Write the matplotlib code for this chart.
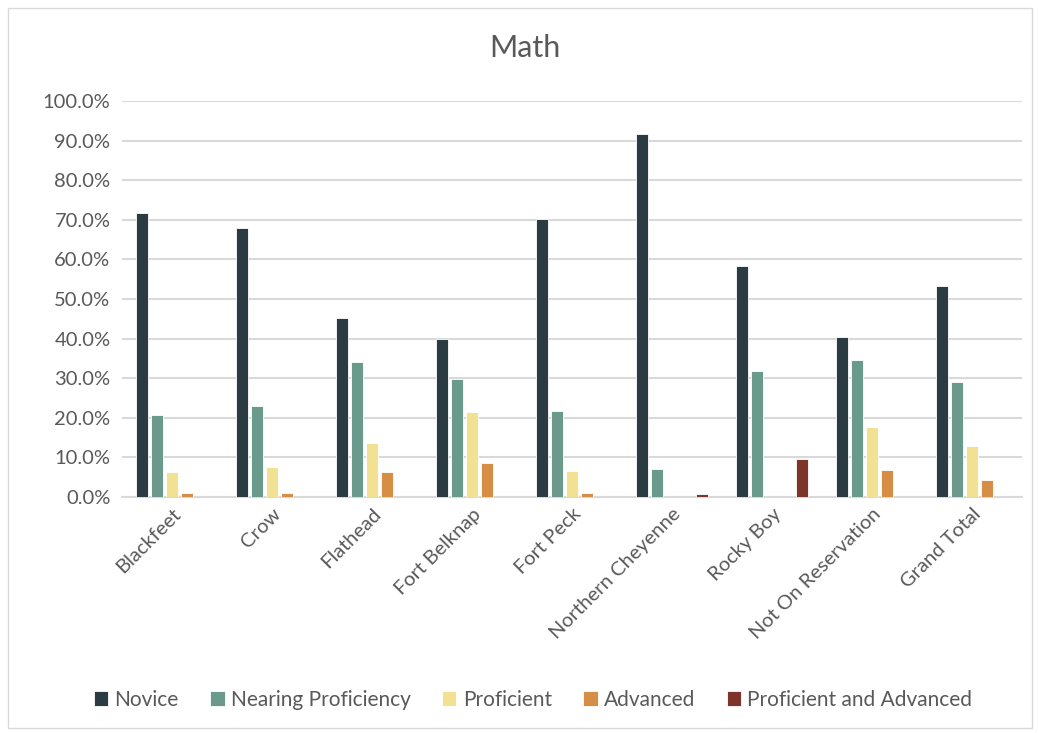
import numpy as np
import matplotlib.pyplot as plt
from matplotlib.patches import Rectangle
from matplotlib.ticker import FuncFormatter

plt.rcParams['font.family'] = ['Lato', 'DejaVu Sans']

categories = ['Blackfeet', 'Crow', 'Flathead', 'Fort Belknap', 'Fort Peck',
              'Northern Cheyenne', 'Rocky Boy', 'Not On Reservation', 'Grand Total']
series = ['Novice', 'Nearing Proficiency', 'Proficient', 'Advanced',
          'Proficient and Advanced']

novice = [71.7, 67.9, 45.3, 39.8, 70.3, 91.8, 58.4, 40.5, 53.3]
nearing = [20.7, 23.0, 34.0, 29.8, 21.7, 7.1, 31.7, 34.5, 29.0]
proficient = [6.4, 7.6, 13.7, 21.5, 6.6, 0.0, 0.0, 17.7, 12.9]
advanced = [0.9, 1.1, 6.4, 8.5, 0.9, 0.0, 0.0, 6.8, 4.3]
prof_adv = [0.0, 0.0, 0.0, 0.0, 0.0, 0.8, 9.6, 0.0, 0.0]

colors = ['#2a3b42', '#6a9a8b', '#f3e193', '#d68d45', '#7d352b']
values = [novice, nearing, proficient, advanced, prof_adv]

fig = plt.figure(figsize=(10.39, 7.33), dpi=100)
ax = fig.add_axes([0.117, 0.322, 0.867, 0.54])

x = np.arange(len(categories))
step = 0.15
width = 0.12
for i, (name, vals, c) in enumerate(zip(series, values, colors)):
    ax.bar(x + (i - 2) * step, np.array(vals) / 100, width, color=c,
           label=name, edgecolor='white', linewidth=0.6, zorder=3)

ax.set_xlim(-0.5, len(categories) - 0.5)
ax.set_ylim(0, 1.0)
ax.set_yticks(np.arange(0, 1.01, 0.1))
ax.yaxis.set_major_formatter(FuncFormatter(lambda v, p: f'{v*100:.1f}%'))
ax.grid(axis='y', color='#d9d9d9', linewidth=1.5, zorder=0)
ax.set_axisbelow(True)
for s in ['top', 'right', 'left']:
    ax.spines[s].set_visible(False)
ax.spines['bottom'].set_color('#d9d9d9')
ax.spines['bottom'].set_linewidth(1.5)
ax.tick_params(length=0, labelsize=14.5, labelcolor='#595959', pad=8)
ax.set_xticks(x)
ax.set_xticklabels(categories, rotation=45, ha='right', rotation_mode='anchor')
ax.tick_params(axis='x', pad=6)

fig.text(0.505, 0.935, 'Math', ha='center', va='center', fontsize=22,
         color='#595959')

ax.legend(loc='center', bbox_to_anchor=(0.513, 0.045), bbox_transform=fig.transFigure,
          ncol=5, frameon=False, fontsize=15, labelcolor='#595959',
          handlelength=0.7, handleheight=0.7, handletextpad=0.3, columnspacing=1.5)

fig.patches.append(Rectangle((0.008, 0.007), 0.985, 0.982, transform=fig.transFigure,
                             fill=False, edgecolor='#d9d9d9', linewidth=1))

fig.savefig('out.png', dpi=100)
